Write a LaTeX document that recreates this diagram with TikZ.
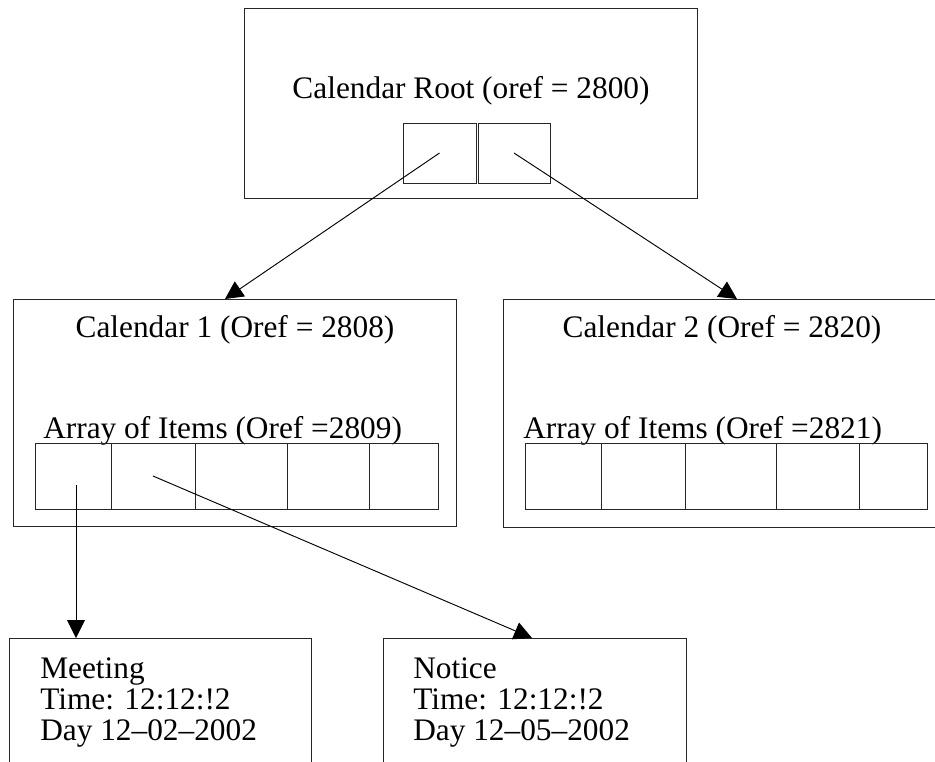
\documentclass[tikz,border=0pt]{standalone}
\usepackage{fontspec}
\setmainfont{Liberation Serif}
\usetikzlibrary{arrows.meta,positioning,fit}

\begin{document}
\begin{tikzpicture}[
    x=0.75pt, y=-0.75pt,
    font=\fontsize{23.5}{23.3}\selectfont,
    box/.style={draw=black!85, line width=0.75pt, inner sep=0pt},
    cell/.style={draw=black!85, line width=0.75pt, inner sep=0pt},
    lbl/.style={inner sep=0pt, anchor=base},
    item/.style={inner sep=0pt, anchor=north west, align=left},
    arr/.style={-{Triangle[length=13.5pt, width=13.5pt]}, line width=0.7pt}
]
\useasboundingbox (0,0) rectangle (935,761);
\clip (0,0) rectangle (935,761);

% root object
\node[box, fit={(244,8) (697,198)}] (root) {};
\node[lbl] (rootlbl) at (471,98) {Calendar Root (oref = 2800)};
\node[cell, fit={(403,123) (476,183)}] (rc1) {};
\node[cell, fit={(478,123) (550,183)}] (rc2) {};

% calendars
\node[box, fit={(13,299) (456,526)}] (cal1) {};
\node[lbl] (cal1lbl) at (235,337) {Calendar 1 (Oref = 2808)};
\node[lbl, anchor=base west] (arr1lbl) at (43,438) {Array of Items (Oref =2809)};
\foreach \xa/\xb [count=\i] in {35/111,111/195,195/287,287/369,369/438}
  \node[cell, fit={(\xa,443) (\xb,509)}] (a\i) {};

\node[box, fit={(503,299) (960,527)}] (cal2) {};
\node[lbl] (cal2lbl) at (722,337) {Calendar 2 (Oref = 2820)};
\node[lbl, anchor=base west] (arr2lbl) at (523,438) {Array of Items (Oref =2821)};
\foreach \xa/\xb [count=\i] in {525/601,601/685,685/776,776/859,859/927}
  \node[cell, fit={(\xa,443) (\xb,509)}] (b\i) {};

% items
\node[box, fit={(9,638) (311,790)}] (meeting) {};
\node[item] (meetinglbl) at (40,657) {Meeting\\Time: 12:12:!2\\Day 12--02--2002};
\node[box, fit={(383,638) (686,790)}] (notice) {};
\node[item] (noticelbl) at (413,657) {Notice\\Time: 12:12:!2\\Day 12--05--2002};

% references
\coordinate (cal1in) at (225,299);
\coordinate (cal2in) at (737,299);
\coordinate (meetin) at (76,638);
\coordinate (notein) at (532,638);
\draw[arr] (rc1.center) -- (cal1in);
\draw[arr] (rc2.center) -- (cal2in);
\draw[arr] ([shift={(3,9)}]a1.center) -- (meetin);
\draw[arr] (a2.center) -- (notein);

\end{tikzpicture}
\end{document}
